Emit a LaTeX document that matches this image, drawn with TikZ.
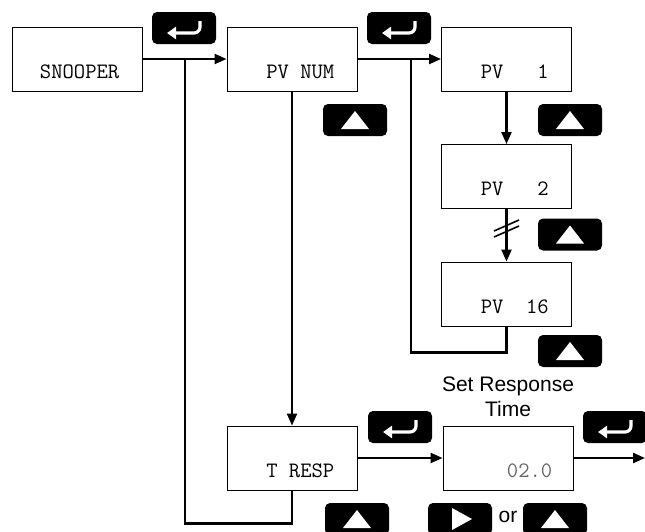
\documentclass[tikz,border=0pt]{standalone}
\usepackage{fontspec}
\setmainfont{Liberation Sans}
\usetikzlibrary{arrows.meta}

\tikzset{
  disp/.style={draw, line width=0.9pt, minimum width=130pt, minimum height=64pt, inner sep=0pt},
  lcd/.style={anchor=base east, inner sep=0pt, font=\ttfamily\fontsize{22}{22}\selectfont},
  key/.style={fill=black, rounded corners=5pt, minimum width=64pt, minimum height=32pt, inner sep=0pt},
  wire/.style={line width=2.2pt},
  conn/.style={wire, -{Triangle[length=12pt,width=10pt]}},
  enter/.pic={\draw[white, line width=3.2pt, rounded corners=6pt, -{Triangle[length=9pt,width=12pt]}] (16,-7) -- (16,5) -- (-17,5);},
  up/.pic={\fill[white] (-14,9) -- (14,9) -- (0,-9) -- cycle;},
  right/.pic={\fill[white] (-8,-11) -- (12,0) -- (-8,11) -- cycle;},
}

\begin{document}
\begin{tikzpicture}[x=1pt,y=-1pt]
\useasboundingbox (0,0) rectangle (645,531);
\clip (0,0) rectangle (645,531);

% displays
\node[disp] (snooper) at (77,59) {};
\node[disp] (pvnum) at (292,59) {};
\node[disp] (pv1) at (506.5,59) {};
\node[disp] (pv2) at (506.5,176.5) {};
\node[disp] (pv16) at (506.5,294) {};
\node[disp] (tresp) at (292,458) {};
\node[disp] (val) at (508,458) {};

\node[lcd] (snooper-t) at ([xshift=-23pt,yshift=13pt]snooper.south east) {SNOOPER};
\node[lcd] (pvnum-t) at ([xshift=-23pt,yshift=13pt]pvnum.south east) {PV NUM};
\node[lcd] (pv1-t) at ([xshift=-23pt,yshift=13pt]pv1.south east) {PV\ \ \ 1};
\node[lcd] (pv2-t) at ([xshift=-23pt,yshift=13pt]pv2.south east) {PV\ \ \ 2};
\node[lcd] (pv16-t) at ([xshift=-23pt,yshift=13pt]pv16.south east) {PV\ \ 16};
\node[lcd] (tresp-t) at ([xshift=-23pt,yshift=13pt]tresp.south east) {T RESP};
\node[lcd, text=black!60] (val-t) at ([xshift=-21pt,yshift=13pt]val.south east) {02.0};

% keys
\node[key] (ent1) at (184,28) {};
\node[key] (ent2) at (399,28) {};
\node[key] (ent3) at (400,427) {};
\node[key] (ent4) at (615,427) {};
\node[key] (up1) at (355,120) {};
\node[key] (up2) at (570,120) {};
\node[key] (up3) at (570,234.5) {};
\node[key] (up4) at (570,351) {};
\node[key] (up5) at (357,519) {};
\node[key] (rt1) at (460,519) {};
\node[key] (up6) at (555,519) {};
\foreach \k in {ent1,ent2,ent3,ent4} \pic at (\k) {enter};
\foreach \k in {up1,up2,up3,up4,up5,up6} \pic at (\k) {up};
\pic at (rt1) {right};

\node[font=\fontsize{21}{21}\selectfont, inner sep=0pt] (or) at (508,517) {or};
\node[font=\fontsize{21}{25}\selectfont, align=center, anchor=north, inner sep=0pt] (title) at (508,377) {Set Response\\Time};

% connectors
\coordinate (j1) at (185,59);
\coordinate (j2) at (411,59);
\coordinate (out) at (645,458);

\draw[conn] (snooper) -- (pvnum);
\draw[conn] (pvnum) -- (pv1);
\draw[conn] (pv1) -- (pv2);
\draw[conn] (pv2) -- (pv16);
\draw[conn] (pvnum) -- (tresp);
\draw[conn] (tresp) -- (val);
\draw[conn] (val) -- (out);
\draw[wire] (tresp.south) -- ++(0,33) -| (j1);
\draw[wire] (pv16.south) -- ++(0,26) -| (j2);

% break marks
\draw[line width=1.6pt] (494,231) -- (519,220);
\draw[line width=1.6pt] (494,237) -- (519,226);
\end{tikzpicture}
\end{document}
